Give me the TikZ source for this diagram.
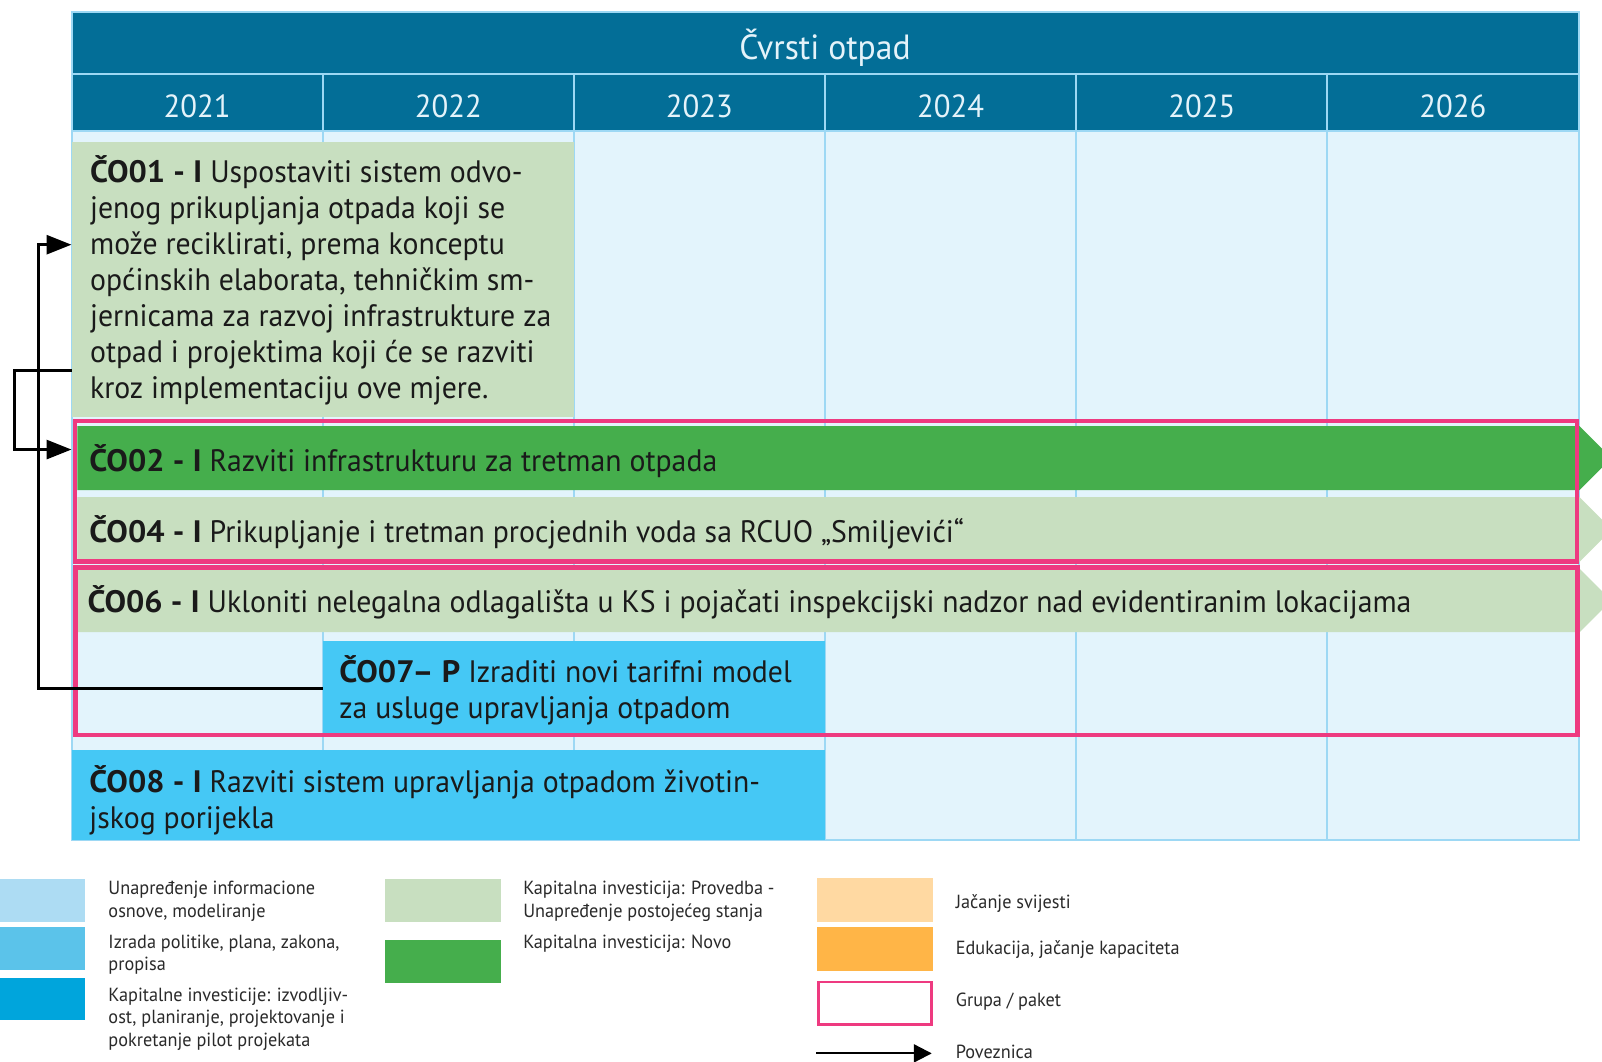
\documentclass[tikz,border=0pt]{standalone}
\usepackage{fontspec}
\setmainfont{PT Sans}[FakeStretch=0.96, BoldFeatures={FakeStretch=1.04}]
\usetikzlibrary{fit,calc,arrows.meta}
\definecolor{hdr}{HTML}{036E97}
\definecolor{hdrtxt}{HTML}{E4F3FA}
\definecolor{bodybg}{HTML}{E3F4FC}
\definecolor{gridln}{HTML}{9DD8F4}
\definecolor{lgreen}{HTML}{C8DFC0}
\definecolor{dgreen}{HTML}{45AE4C}
\definecolor{cyanbar}{HTML}{45C8F5}
\definecolor{pinkgrp}{HTML}{EE3A80}
\definecolor{leg1}{HTML}{ADDCF3}
\definecolor{leg2}{HTML}{5BC3EA}
\definecolor{leg3}{HTML}{00A5DC}
\definecolor{leg4}{HTML}{FFD9A2}
\definecolor{leg5}{HTML}{FFB547}
\definecolor{txt}{HTML}{1A1A1A}
\definecolor{legtxt}{HTML}{2A2A2A}
\begin{document}
\begin{tikzpicture}[x=1.0217pt,y=-1.0217pt,
  area/.style={inner sep=0pt, outer sep=0pt, draw=none},
  gridline/.style={draw=gridln, line width=2pt},
  bartext/.style={font=\fontsize{31}{36}\selectfont, text=txt, anchor=base west, align=left, inner sep=0pt},
  hdrtext/.style={font=\fontsize{32}{36}\selectfont, text=hdrtxt, inner sep=0pt},
  titletext/.style={font=\fontsize{35}{40}\selectfont, text=hdrtxt, inner sep=0pt},
  legtext/.style={font=\fontsize{19}{22.5}\selectfont, text=legtxt, anchor=base west, align=left, inner sep=0pt},
  grp/.style={area, draw=pinkgrp, line width=4.6pt},
  link/.style={draw=black, line width=3pt, -{Triangle[length=25pt,width=19pt]}},
  leglink/.style={draw=black, line width=2.2pt, -{Triangle[length=18pt,width=18pt]}}
]
\useasboundingbox (0,0) rectangle (1568,1039.4);
\fill[white] (0,0) rectangle (1568,1039.4);
% header
\node[area, fill=hdr, fit={(70,12)(1545,72)}] (title) {};
\node[titletext, anchor=base] at ($(title.south)+(0,-14)$) {Čvrsti otpad};
\foreach \i/\yr in {0/2021,1/2022,2/2023,3/2024,4/2025,5/2026} {
  \node[area, fill=hdr, fit={({70+245.833*\i},72)({315.833+245.833*\i},128)}] (y\yr) {};
  \node[hdrtext, anchor=base] at ($(y\yr.south)+(0,-13.2)$) {\yr};
}
% body
\node[area, fill=bodybg, fit={(70,128)(1545,822)}] (tbl) {};
\foreach \i in {1,...,5} \draw[gridline] ({70+245.833*\i},72) -- ({70+245.833*\i},822);
\draw[gridline] (70,72) -- (1545,72);
\draw[gridline] (70,128) -- (1545,128);
\draw[gridline] (70,12) rectangle (1545,822);
% bars
\node[area, fill=lgreen, fit={(70,138.5)(561.7,408)}] (co01) {};
\node[area, fit={(75.7,417)(1546,479.6)}] (co02) {};
\fill[dgreen] (co02.north west) -- (co02.north east) -- ($(co02.east)+(31.3,0)$) -- (co02.south east) -- (co02.south west) -- cycle;
\node[area, fit={(75.7,486.5)(1546,550)}] (co04) {};
\fill[lgreen] (co04.north west) -- (co04.north east) -- ($(co04.east)+(31.7,0)$) -- (co04.south east) -- (co04.south west) -- cycle;
\node[area, fit={(75.7,557)(1546.4,618.6)}] (co06) {};
\fill[lgreen] (co06.north west) -- (co06.north east) -- ($(co06.east)+(30.8,0)$) -- (co06.south east) -- (co06.south west) -- cycle;
\node[area, fill=cyanbar, fit={(315.9,627)(807.5,720.4)}] (co07) {};
\node[area, fill=cyanbar, fit={(70,734)(807.5,822)}] (co08) {};
% groups
\node[grp, fit={(73.4,412)(1543.5,549.5)}] (grp1) {};
\node[grp, fit={(74,555.5)(1544,719.5)}] (grp2) {};
% bar texts (multi-line nodes are placed by their last baseline)
\node[bartext] (t01) at (88,389.8) {\textbf{ČO01 - I} Uspostaviti sistem odvo-\\jenog prikupljanja otpada koji se\\može reciklirati, prema konceptu\\općinskih elaborata, tehničkim sm-\\jernicama za razvoj infrastrukture za\\otpad i projektima koji će se razviti\\kroz implementaciju ove mjere.};
\node[bartext] (t02) at (87.4,461.7) {\textbf{ČO02 - I} Razviti infrastrukturu za tretman otpada};
\node[bartext] (t04) at (87.4,531.2) {\textbf{ČO04 - I} Prikupljanje i tretman procjednih voda sa RCUO „Smiljevići“};
\node[bartext] (t06) at (85.5,599.7) {\textbf{ČO06 - I} Ukloniti nelegalna odlagališta u KS i pojačati inspekcijski nadzor nad evidentiranim lokacijama};
\node[bartext] (t07) at (332,703) {\textbf{ČO07– P} Izraditi novi tarifni model\\za usluge upravljanja otpadom};
\node[bartext] (t08) at (87.4,810.7) {\textbf{ČO08 - I} Razviti sistem upravljanja otpadom životin-\\jskog porijekla};
% connectors
\coordinate (inA) at ($(co01.north west)+(0,101)$);
\coordinate (outB) at ($(co01.south west)+(0,-45)$);
\coordinate (inB) at ($(co01.south west)+(0,32)$);
\draw[link] (co07.west) -| ($(inA)+(-32,0)$) -- (inA);
\draw[link] (outB) -- ++(-56,0) |- (inB);
% legend
\node[area, fill=leg1, fit={(0,860)(83,902)}] (l1) {};
\node[area, fill=leg2, fit={(0,907.5)(83,949)}] (l2) {};
\node[area, fill=leg3, fit={(0,957)(83,998.5)}] (l3) {};
\node[legtext] at (106,898) {Unapređenje informacione\\osnove, modeliranje};
\node[legtext] at (106,950) {Izrada politike, plana, zakona,\\propisa};
\node[legtext] at (106,1024) {Kapitalne investicije: izvodljiv-\\ost, planiranje, projektovanje i\\pokretanje pilot projekata};
\node[area, fill=lgreen, fit={(377,860)(490,902)}] (l4) {};
\node[area, fill=dgreen, fit={(377,920)(490,962)}] (l5) {};
\node[legtext] at (512,898) {Kapitalna investicija: Provedba -\\Unapređenje postojećeg stanja};
\node[legtext] at (512,928) {Kapitalna investicija: Novo};
\node[area, fill=leg4, fit={(799.3,859.7)(912.9,902)}] (l6) {};
\node[area, fill=leg5, fit={(799.3,907.6)(912.9,950)}] (l7) {};
\node[area, draw=pinkgrp, line width=2.6pt, fill=white, fit={(801,961)(912,1003)}] (l8) {};
\coordinate (la) at (799,1031);
\coordinate (lb) at (912,1031);
\draw[leglink] (la) -- (lb);
\node[legtext] at (935.4,889) {Jačanje svijesti};
\node[legtext] at (935.4,933.8) {Edukacija, jačanje kapaciteta};
\node[legtext] at (935.4,985.3) {Grupa / paket};
\node[legtext] at (935.4,1036.5) {Poveznica};
\end{tikzpicture}
\end{document}
